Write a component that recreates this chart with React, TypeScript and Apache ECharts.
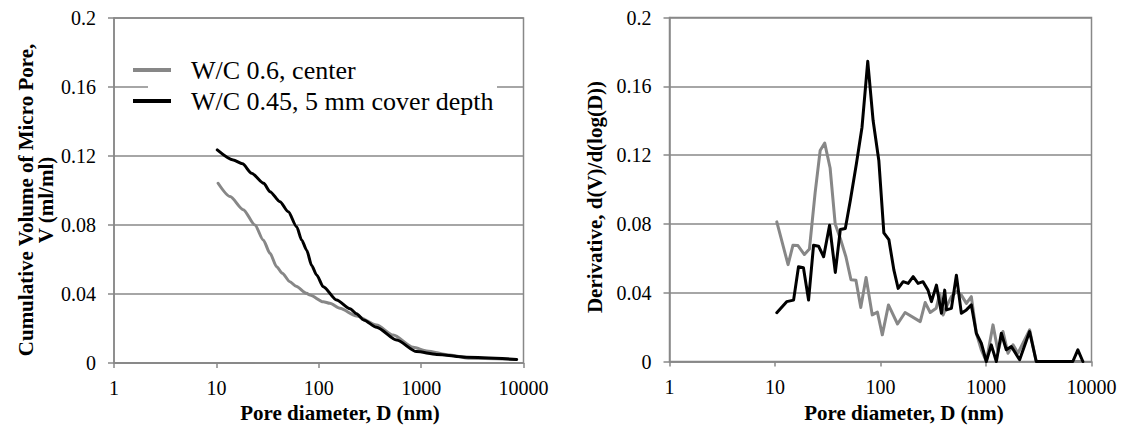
import React, { useEffect, useRef } from "react";
import * as echarts from "echarts";

// Series names
const NAME_CENTER = "W/C 0.6, center";
const NAME_COVER = "W/C 0.45, 5 mm cover depth";

// Axis ticks
const xTickValues = [1, 10, 100, 1000, 10000];
const yTickValues = [0, 0.04, 0.08, 0.12, 0.16, 0.2];

// Cumulative pore volume V (ml/ml) vs pore diameter D (nm)
const cumCenter: [number, number][] = [
  [10.4, 0.1042], [13.6, 0.0965], [18.3, 0.0889], [23.8, 0.08], [28.7, 0.0713],
  [33.4, 0.0636], [38.8, 0.0558], [44, 0.052], [52.3, 0.0471], [60, 0.0445],
  [76.2, 0.0404], [82, 0.0394], [110.6, 0.0355], [128.5, 0.0346], [161, 0.0317],
  [234, 0.0272], [367, 0.022], [534, 0.0162], [837, 0.0091], [1132, 0.007],
  [1910, 0.0046], [2997, 0.0027], [8570, 0.0021],
];
const cumCover: [number, number][] = [
  [10.2, 0.1235], [14.6, 0.1177], [18, 0.1155], [22.1, 0.11], [29, 0.1042],
  [33.4, 0.0993], [41.8, 0.0935], [50.4, 0.0877], [60.8, 0.079], [68.1, 0.0713],
  [76.2, 0.0654], [85.3, 0.0565], [95.4, 0.051], [110.7, 0.0442], [149.5, 0.0365],
  [202, 0.0315], [234, 0.0285], [274, 0.025], [367, 0.0207], [576, 0.0133],
  [903, 0.0066], [1417, 0.005], [2782, 0.0033], [8570, 0.0021],
];

// Derivative dV/d(log D) vs pore diameter D (nm)
const derivCenter: [number, number][] = [
  [10.4, 0.0812], [13.3, 0.0563], [14.8, 0.0676], [16.5, 0.0674], [19.0, 0.0622],
  [21.2, 0.0654], [24.0, 0.098], [26.8, 0.1227], [29.6, 0.127], [33.3, 0.1125],
  [37.2, 0.08], [41.6, 0.0715], [47, 0.0609], [52.5, 0.0475], [58.5, 0.0472],
  [65, 0.0314], [73, 0.0488], [83.5, 0.0271], [93.5, 0.0287], [104, 0.0155],
  [119, 0.0329], [145, 0.0218], [171, 0.0285], [238, 0.0232], [265, 0.0343],
  [296, 0.0285], [337, 0.0309], [365, 0.0396], [392, 0.027], [422, 0.0319],
  [470, 0.0377], [524, 0.0406], [584, 0.0386], [652, 0.0338], [726, 0.0377],
  [810, 0.0164], [903, 0.0068], [1007, 0], [1165, 0.0213], [1300, 0.0058],
  [1449, 0.0174], [1615, 0.0048], [1803, 0.0097], [2009, 0.0048], [2590, 0.0184],
  [2994, 0], [8285, 0],
];
const derivCover: [number, number][] = [
  [10.4, 0.0284], [12.9, 0.0348], [15.0, 0.0357], [16.7, 0.0551], [18.6, 0.0545],
  [20.8, 0.0357], [23.2, 0.0676], [25.9, 0.067], [28.9, 0.0609], [32.9, 0.0792],
  [37.3, 0.0518], [41.6, 0.0767], [46.4, 0.0773], [51.8, 0.0937], [59.1, 0.115],
  [66.8, 0.1362], [75.7, 0.1745], [85.1, 0.1401], [96.4, 0.1169], [107.6, 0.0748],
  [120, 0.0709], [134, 0.0531], [147, 0.0425], [164, 0.0464], [183, 0.0454],
  [204, 0.0493], [227, 0.0454], [253, 0.0464], [282, 0.0415], [304, 0.0348],
  [339, 0.0444], [378, 0.028], [406, 0.0415], [422, 0.03], [470, 0.0309],
  [524, 0.0502], [584, 0.028], [652, 0.03], [726, 0.0329], [810, 0.0164],
  [903, 0.0106], [1007, 0], [1122, 0.0097], [1253, 0], [1397, 0.0164],
  [1557, 0.0068], [1738, 0.0087], [2083, 0.001], [2590, 0.0174], [2994, 0],
  [6650, 0], [7425, 0.0068], [8285, 0],
];

const FONT = "Liberation Serif";
const GRID_GRAY = "#888888";
const LINE_GRAY = "#878787";
const LINE_BLACK = "#000000";

// Tick label text style, applied through a rich-text block so the serif face sticks
const tickRich = {
  t: { fontFamily: FONT, fontSize: 20, color: "#000", fontWeight: "normal" },
};

function makeXAxis(gridIndex: number) {
  return {
    type: "log",
    logBase: 10,
    gridIndex,
    min: xTickValues[0],
    max: xTickValues[xTickValues.length - 1],
    axisLine: { show: true, lineStyle: { color: GRID_GRAY, width: 1.5 } },
    axisTick: { show: true, length: 5, lineStyle: { color: GRID_GRAY, width: 1.5 } },
    splitLine: { show: false },
    axisLabel: {
      margin: 15,
      color: "#000",
      fontFamily: FONT,
      fontSize: 20,
      rich: tickRich,
      formatter: (v: number) => `{t|${Math.round(v)}}`,
    },
  };
}

function makeYAxis(gridIndex: number) {
  return {
    type: "value",
    gridIndex,
    min: yTickValues[0],
    max: yTickValues[yTickValues.length - 1],
    interval: yTickValues[1],
    axisLine: { show: true, lineStyle: { color: GRID_GRAY, width: 1.5 } },
    axisTick: { show: true, length: 6, lineStyle: { color: GRID_GRAY, width: 1.5 } },
    splitLine: { show: true, lineStyle: { color: GRID_GRAY, width: 1.5 } },
    axisLabel: {
      margin: 18,
      color: "#000",
      fontFamily: FONT,
      fontSize: 20,
      rich: tickRich,
      formatter: (v: number) => `{t|${Math.round(v * 100) / 100}}`,
    },
  };
}

function lineSeries(
  name: string,
  data: [number, number][],
  color: string,
  axisIndex: number,
  smooth: boolean
) {
  return {
    type: "line",
    name,
    xAxisIndex: axisIndex,
    yAxisIndex: axisIndex,
    data,
    symbol: "none",
    smooth: smooth ? 0.25 : false,
    smoothMonotone: smooth ? "x" : undefined,
    lineStyle: { color, width: 3, join: "round", cap: "round" },
    itemStyle: { color },
    z: color === LINE_BLACK ? 3 : 2,
  };
}

function titleText(text: string, x: number, y: number, vertical: boolean) {
  return {
    type: "text",
    x,
    y,
    rotation: vertical ? Math.PI / 2 : 0,
    style: {
      text,
      fontFamily: FONT,
      fontSize: 21,
      fontWeight: "bold",
      fill: "#000",
      align: "center",
      verticalAlign: "middle",
      textAlign: "center",
      textVerticalAlign: "middle",
    },
  };
}

export default function App() {
  const ref = useRef<HTMLDivElement>(null);

  useEffect(() => {
    document.body.style.margin = "0";
    if (!ref.current) return;
    const chart = echarts.init(ref.current, null, { renderer: "svg" });
    chart.setOption({
      animation: false,
      backgroundColor: "#ffffff",
      textStyle: { fontFamily: FONT },
      grid: [
        { left: 114, top: 18, width: 409.5, height: 345, show: true, borderColor: GRID_GRAY, borderWidth: 1.5 },
        { left: 669.5, top: 17.5, width: 422, height: 344, show: true, borderColor: GRID_GRAY, borderWidth: 1.5 },
      ],
      xAxis: [makeXAxis(0), makeXAxis(1)],
      yAxis: [makeYAxis(0), makeYAxis(1)],
      legend: {
        show: true,
        data: [
          { name: NAME_CENTER, icon: "rect" },
          { name: NAME_COVER, icon: "rect" },
        ],
        orient: "vertical",
        left: 133,
        top: 55,
        padding: 0,
        itemGap: 1,
        itemWidth: 38,
        itemHeight: 4,
        selectedMode: false,
        z: 5,
        textStyle: {
          color: "#000",
          fontFamily: FONT,
          fontSize: 26,
          lineHeight: 30,
          padding: [0, 0, 0, 15],
        },
      },
      graphic: [
        {
          type: "rect",
          z: 3,
          silent: true,
          shape: { x: 148, y: 52, width: 349, height: 66 },
          style: { fill: "#ffffff" },
        },
        titleText("Pore diameter, D (nm)", 340, 413, false),
        titleText("Pore diameter, D (nm)", 904, 413, false),
        titleText("Cumulative Volume of Micro Pore,", 26, 200, true),
        titleText("V (ml/ml)", 46, 200, true),
        titleText("Derivative, d(V)/d(log(D))", 595, 197, true),
      ],
      series: [
        lineSeries(NAME_CENTER, cumCenter, LINE_GRAY, 0, true),
        lineSeries(NAME_COVER, cumCover, LINE_BLACK, 0, true),
        lineSeries(NAME_COVER, derivCover, LINE_BLACK, 1, false),
        lineSeries(NAME_CENTER, derivCenter, LINE_GRAY, 1, false),
      ],
    });
    return () => chart.dispose();
  }, []);

  return (
    <div
      ref={ref}
      style={{ position: "fixed", left: 0, top: 0, width: 1124, height: 426, background: "#fff" }}
    />
  );
}
